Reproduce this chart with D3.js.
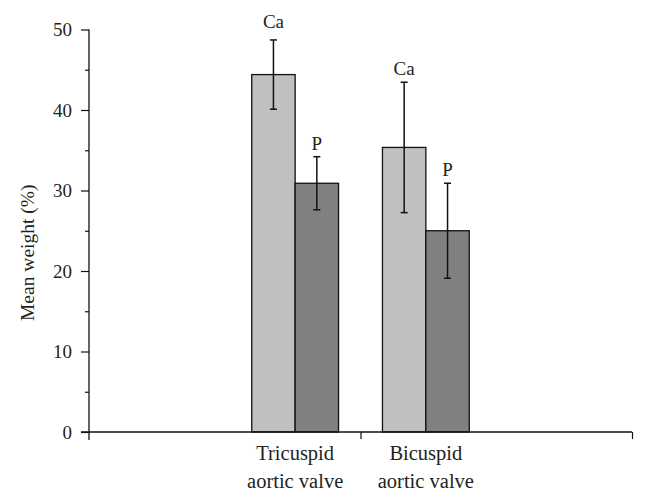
<!DOCTYPE html>
<html>
<head>
<meta charset="utf-8">
<script src="https://cdn.jsdelivr.net/npm/d3@7"></script>
<style>
html,body{margin:0;padding:0;background:#fff;}
svg text{font-family:"Liberation Serif","Times New Roman",serif;fill:#231f20;}
</style>
</head>
<body>
<svg id="chart" width="646" height="501"></svg>
<script>
const categories = ["Tricuspid aortic valve", "Bicuspid aortic valve"];
const categoryLines = [["Tricuspid", "aortic valve"], ["Bicuspid", "aortic valve"]];
const seriesNames = ["Ca", "P"];
const caMeans = [44.4, 35.35];
const caErrors = [4.3, 8.1];
const pMeans = [30.9, 25.0];
const pErrors = [3.3, 5.9];
const yTicks = [0, 10, 20, 30, 40, 50];
const yMinorTicks = [5, 15, 25, 35, 45];
const seriesColors = ["#c0c0c0", "#808080"];

(function () {
const svg = d3.select("#chart");
const mLeft = 89, mRight = 632, mTop = 29.5, mBottom = 432;

const y = d3.scaleLinear().domain([0, 50]).range([mBottom, mTop]);
const x = d3.scalePoint().domain(categories).range([mLeft, mRight]).padding(1.577);
const xs = d3.scaleBand().domain(seriesNames).range([-43.4, 43.4]).padding(0);
const xAxisScale = d3.scaleLinear().domain([0, 1]).range([mLeft, mRight]);

const data = [];
categories.forEach((c, i) => {
  data.push({cat: c, s: "Ca", v: caMeans[i], e: caErrors[i]});
  data.push({cat: c, s: "P", v: pMeans[i], e: pErrors[i]});
});
const labelGap = [12, 7, 7, 7];

// bars
svg.append("g").selectAll("rect").data(data).join("rect")
  .attr("x", d => x(d.cat) + xs(d.s))
  .attr("y", d => y(d.v))
  .attr("width", xs.bandwidth())
  .attr("height", d => y(0) - y(d.v))
  .attr("fill", d => seriesColors[seriesNames.indexOf(d.s)])
  .attr("stroke", "#111")
  .attr("stroke-width", 1.3);

// error bars
const eg = svg.append("g").attr("stroke", "#111").attr("stroke-width", 1.5);
data.forEach((d, k) => {
  const cx = x(d.cat) + xs(d.s) + xs.bandwidth() / 2;
  eg.append("line").attr("x1", cx).attr("x2", cx).attr("y1", y(d.v + d.e)).attr("y2", y(d.v - d.e));
  eg.append("line").attr("x1", cx - 3.5).attr("x2", cx + 3.5).attr("y1", y(d.v + d.e)).attr("y2", y(d.v + d.e));
  eg.append("line").attr("x1", cx - 3.5).attr("x2", cx + 3.5).attr("y1", y(d.v - d.e)).attr("y2", y(d.v - d.e));
  svg.append("text")
    .attr("x", cx)
    .attr("y", y(d.v + d.e) - labelGap[k])
    .attr("text-anchor", "middle")
    .attr("font-size", 19)
    .text(d.s);
});

// y axis
const yAxis = svg.append("g").attr("transform", `translate(${mLeft},0)`)
  .call(d3.axisLeft(y).tickValues(yTicks).tickSize(8).tickPadding(9).tickFormat(d3.format("d")));
yAxis.select(".domain").attr("stroke", "#111").attr("stroke-width", 1.3).attr("d", `M0,${mTop}V${mBottom + 8}`);
yAxis.selectAll(".tick line").attr("stroke", "#111").attr("stroke-width", 1.2);
yAxis.selectAll(".tick text").attr("font-size", 19).attr("font-family", "Liberation Serif").attr("fill", "#231f20");
svg.append("g").attr("transform", `translate(${mLeft},0)`)
  .call(d3.axisLeft(y).tickValues(yMinorTicks).tickSize(4).tickFormat(""))
  .call(g => g.select(".domain").remove())
  .selectAll(".tick line").attr("stroke", "#111").attr("stroke-width", 1.2);

// x axis
const xAxis = svg.append("g").attr("transform", `translate(0,${mBottom})`)
  .call(d3.axisBottom(xAxisScale).tickValues([0.5, 1]).tickSize(7).tickFormat(""));
xAxis.select(".domain").attr("stroke", "#111").attr("stroke-width", 1.3).attr("d", `M${mLeft - 8},0H${mRight}`);
xAxis.selectAll(".tick line").attr("stroke", "#111").attr("stroke-width", 1.2);

// category labels
categories.forEach((c, i) => {
  const t = svg.append("text")
    .attr("x", x(c))
    .attr("y", 460)
    .attr("text-anchor", "middle")
    .attr("font-size", 20.5);
  categoryLines[i].forEach((line, j) => {
    t.append("tspan").attr("x", x(c)).attr("dy", j === 0 ? 0 : 27.5).text(line);
  });
});

// y title
svg.append("text")
  .attr("transform", `translate(34,${(mTop + mBottom) / 2 + 22}) rotate(-90)`)
  .attr("text-anchor", "middle")
  .attr("font-size", 19.5)
  .text("Mean weight (%)");
})();
</script>
</body>
</html>
